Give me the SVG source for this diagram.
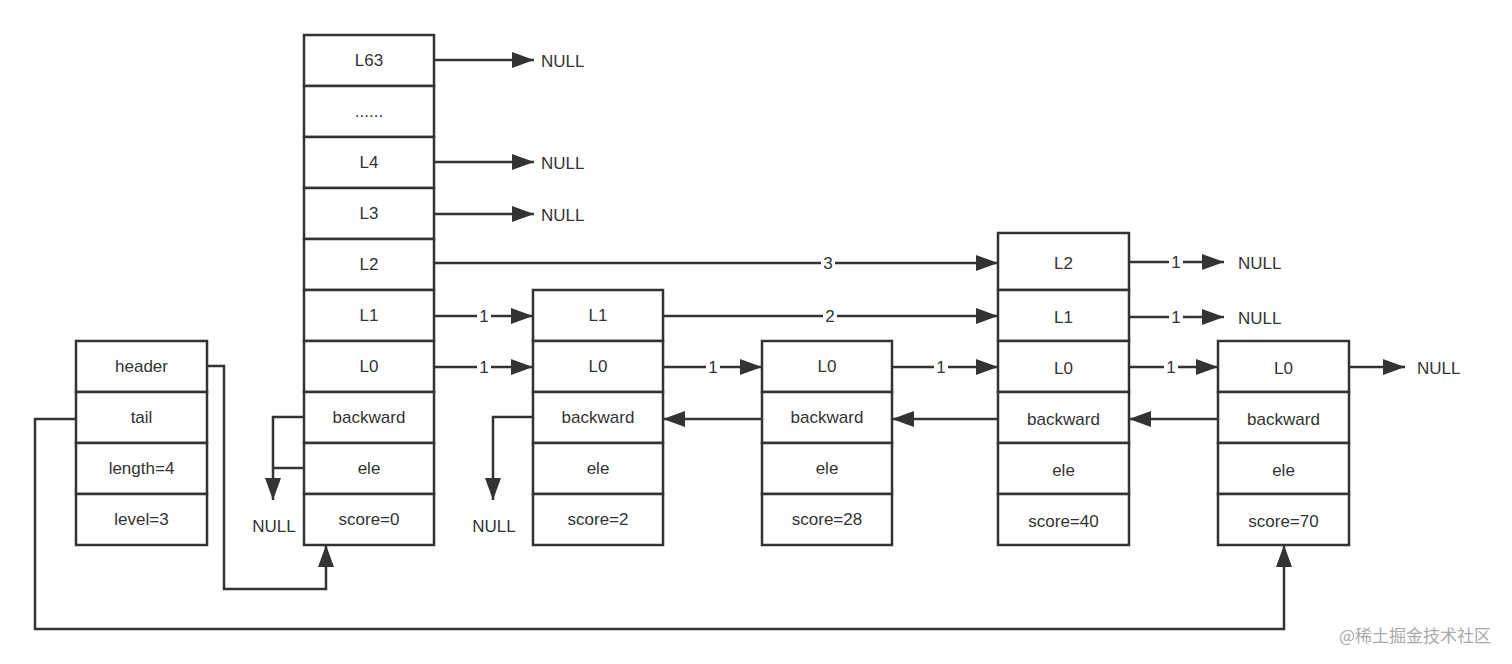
<svg xmlns="http://www.w3.org/2000/svg" width="1512" height="664" viewBox="0 0 1512 664">
<style>
.c{fill:#fff;stroke:#333;stroke-width:2.5}
text{font-family:"Liberation Sans","Noto Sans",sans-serif;font-size:17px;fill:#333;text-anchor:middle;dominant-baseline:central}
.n{text-anchor:start}
.e{fill:none;stroke:#333;stroke-width:2.5}
.lb{fill:#fff;stroke:none}
</style>
<defs>
<marker id="a" viewBox="0 0 10 10" refX="10" refY="5" markerWidth="8" markerHeight="8" markerUnits="userSpaceOnUse" orient="auto" style="overflow:visible">
<path d="M0,0 L10,5 L0,10 z" fill="#333" transform="scale(2.2)" transform-origin="10 5"/>
</marker>
<marker id="m" viewBox="0 0 22 16" refX="22" refY="8" markerWidth="22" markerHeight="16" markerUnits="userSpaceOnUse" orient="auto">
<path d="M0,0 L22,8 L0,16 z" fill="#333"/>
</marker>
</defs>
<rect width="1512" height="664" fill="#fff"/>
<g id="list">
<rect class="c" x="76" y="341" width="131" height="51"/><text x="141.5" y="366.5">header</text>
<rect class="c" x="76" y="392" width="131" height="51"/><text x="141.5" y="417.5">tail</text>
<rect class="c" x="76" y="443" width="131" height="51"/><text x="141.5" y="468.5">length=4</text>
<rect class="c" x="76" y="494" width="131" height="51"/><text x="141.5" y="519.5">level=3</text>
</g>
<g id="headnode">
<rect class="c" x="304" y="35" width="130" height="51"/><text x="369" y="60.5">L63</text>
<rect class="c" x="304" y="86" width="130" height="51"/><text x="369" y="111.5">......</text>
<rect class="c" x="304" y="137" width="130" height="51"/><text x="369" y="162.5">L4</text>
<rect class="c" x="304" y="188" width="130" height="51"/><text x="369" y="213.5">L3</text>
<rect class="c" x="304" y="239" width="130" height="51"/><text x="369" y="264.5">L2</text>
<rect class="c" x="304" y="290" width="130" height="51"/><text x="369" y="315.5">L1</text>
<rect class="c" x="304" y="341" width="130" height="51"/><text x="369" y="366.5">L0</text>
<rect class="c" x="304" y="392" width="130" height="51"/><text x="369" y="417.5">backward</text>
<rect class="c" x="304" y="443" width="130" height="51"/><text x="369" y="468.5">ele</text>
<rect class="c" x="304" y="494" width="130" height="51"/><text x="369" y="519.5">score=0</text>
</g>
<g id="node1">
<rect class="c" x="533" y="290" width="130" height="51"/><text x="598" y="315.5">L1</text>
<rect class="c" x="533" y="341" width="130" height="51"/><text x="598" y="366.5">L0</text>
<rect class="c" x="533" y="392" width="130" height="51"/><text x="598" y="417.5">backward</text>
<rect class="c" x="533" y="443" width="130" height="51"/><text x="598" y="468.5">ele</text>
<rect class="c" x="533" y="494" width="130" height="51"/><text x="598" y="519.5">score=2</text>
</g>
<g id="node2">
<rect class="c" x="762" y="341" width="130" height="51"/><text x="827" y="366.5">L0</text>
<rect class="c" x="762" y="392" width="130" height="51"/><text x="827" y="417.5">backward</text>
<rect class="c" x="762" y="443" width="130" height="51"/><text x="827" y="468.5">ele</text>
<rect class="c" x="762" y="494" width="130" height="51"/><text x="827" y="519.5">score=28</text>
</g>
<g id="node3">
<rect class="c" x="998" y="233" width="131" height="57"/><text x="1063.5" y="263">L2</text>
<rect class="c" x="998" y="290" width="131" height="51"/><text x="1063.5" y="317">L1</text>
<rect class="c" x="998" y="341" width="131" height="51"/><text x="1063.5" y="368">L0</text>
<rect class="c" x="998" y="392" width="131" height="51"/><text x="1063.5" y="419">backward</text>
<rect class="c" x="998" y="443" width="131" height="51"/><text x="1063.5" y="470">ele</text>
<rect class="c" x="998" y="494" width="131" height="51"/><text x="1063.5" y="521">score=40</text>
</g>
<g id="node4">
<rect class="c" x="1218" y="341" width="131" height="51"/><text x="1283.5" y="368">L0</text>
<rect class="c" x="1218" y="392" width="131" height="51"/><text x="1283.5" y="419">backward</text>
<rect class="c" x="1218" y="443" width="131" height="51"/><text x="1283.5" y="470">ele</text>
<rect class="c" x="1218" y="494" width="131" height="51"/><text x="1283.5" y="521">score=70</text>
</g>
<g id="connectors">
<path class="e" marker-end="url(#m)" d="M434,60 H534"/>
<path class="e" marker-end="url(#m)" d="M434,162 H534"/>
<path class="e" marker-end="url(#m)" d="M434,214 H534"/>
<path class="e" marker-end="url(#m)" d="M434,263 H998"/>
<path class="e" marker-end="url(#m)" d="M434,316 H533"/>
<path class="e" marker-end="url(#m)" d="M434,367 H533"/>
<path class="e" marker-end="url(#m)" d="M663,316 H998"/>
<path class="e" marker-end="url(#m)" d="M663,367 H762"/>
<path class="e" marker-end="url(#m)" d="M892,367 H998"/>
<path class="e" marker-end="url(#m)" d="M1129,367 H1218"/>
<path class="e" marker-end="url(#m)" d="M1129,262 H1224"/>
<path class="e" marker-end="url(#m)" d="M1129,317 H1224"/>
<path class="e" marker-end="url(#m)" d="M1349,367 H1405"/>
<path class="e" marker-end="url(#m)" d="M762,419 H663"/>
<path class="e" marker-end="url(#m)" d="M998,419 H892"/>
<path class="e" marker-end="url(#m)" d="M1218,419 H1129"/>
<path class="e" marker-end="url(#m)" d="M304,417 H273 V500"/>
<path class="e" d="M304,468 H273"/>
<path class="e" marker-end="url(#m)" d="M533,417 H493 V500"/>
<path class="e" marker-end="url(#m)" d="M207,366 H224 V589 H326 V545"/>
<path class="e" marker-end="url(#m)" d="M76,419 H35 V629 H1284 V545"/>
<rect class="lb" x="477" y="306" width="14" height="20"/><text x="484" y="316">1</text>
<rect class="lb" x="477" y="357" width="14" height="20"/><text x="484" y="367">1</text>
<rect class="lb" x="821" y="253" width="14" height="20"/><text x="828" y="263">3</text>
<rect class="lb" x="823" y="306" width="14" height="20"/><text x="830" y="316">2</text>
<rect class="lb" x="706" y="357" width="14" height="20"/><text x="713" y="367">1</text>
<rect class="lb" x="934" y="357" width="14" height="20"/><text x="941" y="367">1</text>
<rect class="lb" x="1164" y="357" width="14" height="20"/><text x="1171" y="367">1</text>
<rect class="lb" x="1169" y="252" width="14" height="20"/><text x="1176" y="262">1</text>
<rect class="lb" x="1169" y="307" width="14" height="20"/><text x="1176" y="317">1</text>
</g>
<g id="nulls">
<text class="n" x="541" y="61">NULL</text>
<text class="n" x="541" y="163">NULL</text>
<text class="n" x="541" y="215">NULL</text>
<text class="n" x="1238" y="263">NULL</text>
<text class="n" x="1238" y="318">NULL</text>
<text class="n" x="1417" y="368">NULL</text>
<text x="274" y="526">NULL</text>
<text x="494" y="526">NULL</text>
</g>
<text x="1415" y="634" style="fill:#aaa;font-size:17px;font-family:'Noto Sans CJK SC',sans-serif">@稀土掘金技术社区</text>
</svg>
